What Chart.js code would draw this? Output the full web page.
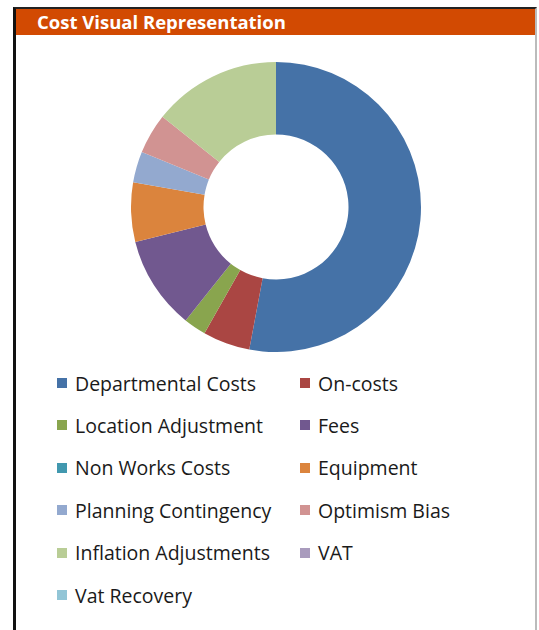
<!DOCTYPE html>
<html>
<head>
<meta charset="utf-8">
<script src="https://cdn.jsdelivr.net/npm/chart.js@4.4.1/dist/chart.umd.min.js"></script>
<style>
  html, body { margin: 0; padding: 0; background: #fff; width: 539px; height: 630px; overflow: hidden; }
  #frame { position: absolute; left: 13px; top: 7px; width: 524px; height: 640px;
           border-left: 3px solid #111; border-top: 2px solid #222; border-right: 2px solid #bbb; box-sizing: border-box; }
  #header { position: absolute; left: 16px; top: 9px; width: 519px; height: 26px; background: #D24A02; }
  #title { position: absolute; left: 37px; top: 9px; height: 26px; line-height: 26px; color: #fff;
           font-family: "Open Sans", sans-serif; font-weight: bold; font-size: 18.5px; white-space: nowrap; }
  #chartbox { position: absolute; left: 131px; top: 62px; width: 290px; height: 290px; }
  .item { position: absolute; height: 26px; display: flex; align-items: center; white-space: nowrap;
          font-family: "Open Sans", sans-serif; font-size: 19.5px; color: #1a1a1a; }
  .sw { width: 10px; height: 10px; margin-right: 8px; flex: none; }
</style>
</head>
<body>
<div id="frame"></div>
<div id="header"></div>
<div id="title">Cost Visual Representation</div>
<div id="chartbox"><canvas id="c" width="290" height="290"></canvas></div>
<div id="legend"></div>
<script>
const categories = ["Departmental Costs", "On-costs", "Location Adjustment", "Fees", "Non Works Costs",
  "Equipment", "Planning Contingency", "Optimism Bias", "Inflation Adjustments", "VAT", "Vat Recovery"];
const shares = [52.9, 5.25, 2.5, 10.4, 0, 6.6, 3.45, 4.5, 14.3, 0, 0];
const colors = ["#4572A7", "#AA4643", "#89A54E", "#71588F", "#4198AF", "#DB843D",
  "#93A9CF", "#D19392", "#B9CD96", "#A99BBD", "#92C5D6"];

const chart = new Chart(document.getElementById("c"), {
  type: "doughnut",
  data: { labels: categories, datasets: [{ data: shares, backgroundColor: colors, borderWidth: 0 }] },
  options: {
    responsive: false, animation: false, cutout: "50%",
    layout: { padding: 0 },
    plugins: { legend: { display: false }, tooltip: { enabled: false } }
  }
});

const legend = document.getElementById("legend");
const colX = [57, 300];
chart.data.labels.forEach((lab, i) => {
  const row = Math.floor(i / 2), col = i % 2;
  const cy = 383 + row * 42.4;
  const d = document.createElement("div");
  d.className = "item";
  d.style.left = colX[col] + "px";
  d.style.top = (cy - 13) + "px";
  const sw = document.createElement("span");
  sw.className = "sw";
  sw.style.background = chart.data.datasets[0].backgroundColor[i];
  const t = document.createElement("span");
  t.textContent = lab;
  d.appendChild(sw); d.appendChild(t);
  legend.appendChild(d);
});
</script>
</body>
</html>
